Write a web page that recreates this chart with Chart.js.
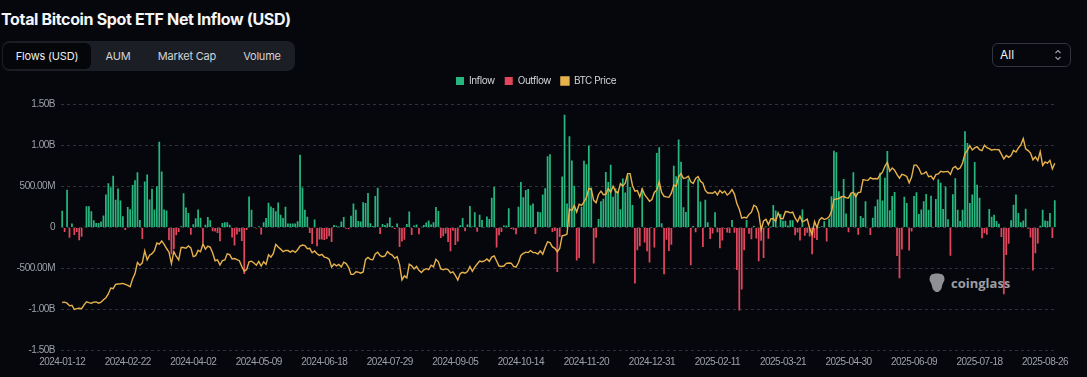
<!DOCTYPE html>
<html>
<head>
<meta charset="utf-8">
<title>Total Bitcoin Spot ETF Net Inflow (USD)</title>
<script src="https://cdn.jsdelivr.net/npm/chart.js@4.4.1/dist/chart.umd.min.js"></script>
<style>
  html, body { margin: 0; padding: 0; background: #05070c; }
  body { width: 1087px; height: 377px; position: relative; overflow: hidden; font-family: Inter, 'Noto Sans', sans-serif; color: #fff; }
  h1 { position: absolute; left: 1px; top: 9px; margin: 0; font-size: 16px; font-weight: 700; letter-spacing: -0.35px; color: #f4f5f7; }
  .tabs { position: absolute; left: 2px; top: 41px; width: 293px; height: 30px; background: #1b1e25; border-radius: 8px; }
  .tabs span { position: absolute; top: 0; height: 30px; line-height: 30px; font-size: 11px; letter-spacing: -0.2px; color: #d2d4d8; text-align: center; }
  .tabs .on { top: 2px; height: 26px; line-height: 26px; background: #04060a; border-radius: 6px; color: #eceef0; }
  .select { position: absolute; left: 992px; top: 43px; width: 77px; height: 22px; border: 1px solid #32353d; border-radius: 6px; background: #05070c; }
  .select span { position: absolute; left: 7px; top: 0; line-height: 22px; font-size: 12px; color: #f0f0f0; }
  .select svg { position: absolute; right: 8px; top: 5px; }
  .mark { position: absolute; left: 928px; top: 273px; height: 20px; display: flex; align-items: center; gap: 5px; color: #9c9ea3; font-family: 'Open Sans', sans-serif; font-weight: 700; font-size: 13px; }
  .chart-box { position: absolute; left: 0; top: 66px; width: 1087px; height: 311px; }
</style>
</head>
<body>
<h1>Total Bitcoin Spot ETF Net Inflow (USD)</h1>
<div class="tabs">
  <span class="on" style="left:1px;width:88px;">Flows (USD)</span>
  <span style="left:96px;width:40px;">AUM</span>
  <span style="left:148px;width:74px;">Market Cap</span>
  <span style="left:232px;width:56px;">Volume</span>
</div>
<div class="select">
  <span>All</span>
  <svg width="8" height="12" viewBox="0 0 8 12"><polyline points="1.5,4 4,1.5 6.5,4" fill="none" stroke="#9a9da3" stroke-width="1.2"/><polyline points="1.5,8 4,10.5 6.5,8" fill="none" stroke="#9a9da3" stroke-width="1.2"/></svg>
</div>
<div class="mark">
  <svg width="18" height="20" viewBox="0 0 18 20"><path d="M3 2 C5 0 13 0 15 2 C17 4 17 8 15 10 L14 13 C14 16 12 18 10 19 L8 19 C6 18 4 16 4 13 L3 10 C1 8 1 4 3 2 Z" fill="#8e9095"/></svg>
  <span>coinglass</span>
</div>
<div class="chart-box"><canvas id="flows-chart"></canvas></div>
<script>
// daily net flow of all US spot bitcoin ETFs, USD millions, one value per trading day from 2024-01-12
const netFlows = [
    205, -55, 460, -125, 50, -90, -55, -155, -110, 10,
    260, 260, 200, 90, 55, 57, 75, 146, 403, 541,
    493, 631, 340, 477, 330, 138, -30, 251, 225, 520,
    577, 673, 92, -138, 562, 648, 341, 473, 222, 505,
    1045, 684, 220, 207, -154, -326, -261, -94, -54, 15,
    418, 244, 179, -86, 40, 113, 220, 120, -187, 36,
    130, 90, -45, -49, -65, -166, 57, 65, 65, 36,
    -120, -218, -84, -50, -162, -564, -30, 378, 217, 8,
    -11, 16, -85, 66, 118, 303, 257, 240, 200, 305,
    157, 118, 253, 49, 49, 49, 49, 77, 887, 488,
    217, 131, -65, -200, 100, -226, -146, -146, -152, -140,
    -106, -175, 31, 22, 12, 73, 129, -14, -20, 143,
    295, 216, 79, 73, 310, 301, 423, 53, 20, 384,
    486, -78, 44, 31, 52, 124, 18, -18, 50, -237,
    -168, -148, 45, 195, -90, 25, 37, -81, 11, 32,
    62, 88, 39, 64, 252, 202, -127, -105, -72, -175,
    -288, -38, -211, -169, 28, 117, -43, 39, 263, 13,
    187, -52, 158, 92, 4, 136, 105, 365, 494, -242,
    -92, -54, 25, 25, 235, -18, -25, -81, 253, 556,
    371, 458, 470, 273, 294, -79, 192, 188, 402, 480,
    870, 893, -55, -40, -541, -116, 622, 1376, 294, 1114,
    817, 510, -400, -371, 255, 816, 773, 1000, 490, -438,
    -123, 106, 320, 353, 676, 556, 766, 376, 479, 439,
    223, 597, 428, 637, 494, 275, -680, -277, -226, 475,
    -183, -288, -426, 5, -242, 908, 978, 52, -569, -149,
    -284, -209, 755, 626, 1073, 803, 249, 189, 588, -458,
    20, -58, 588, 318, -235, 340, 66, -140, -72, 186,
    -56, -251, -156, -15, -60, -65, 94, -62, -516, -1010,
    -754, -276, 94, -74, -143, 22, -134, -409, -160, -371,
    13, -135, 13, 275, 209, 11, 165, 83, 84, 27,
    89, 90, -93, -60, -157, 220, -100, -64, -109, -326,
    -127, -150, 1, 15, 76, -170, 107, 381, 936, 917,
    443, 381, 591, 173, -56, 422, 675, 425, -86, 142,
    117, 321, 7, -91, 120, 260, 342, 667, 329, 607,
    934, 211, 386, 433, -347, -616, -267, 376, 300, -278,
    -48, 386, 431, 165, 220, 322, 408, 216, 389, 6,
    350, 588, 548, 226, 501, 102, -342, 407, 602, 217,
    80, 218, 1175, 1030, 301, 403, 799, 522, 363, -131,
    -68, -86, 227, 131, 157, 80, 47, -114, -812, -333,
    -196, 91, 277, 404, 178, 65, 87, 231, -14, -122,
    -523, -312, -194, 23, 219, 88, 81, 179, -126, 333,
];

// BTC close, USD thousands, same trading days
const btcPrice = [
    42.9, 43.1, 42.6, 41.3, 41.6, 39.5, 39.9, 40.1, 39.9, 41.8,
    43.3, 42.9, 42.6, 43.1, 43.2, 42.6, 43.1, 44.3, 45.3, 47.1,
    50.0, 49.7, 51.8, 52.0, 52.1, 52.3, 51.8, 51.3, 50.7, 54.5,
    57.1, 62.5, 61.2, 62.4, 68.3, 63.8, 66.1, 66.9, 68.3, 72.1,
    71.5, 73.1, 71.4, 69.4, 67.6, 62.0, 67.9, 65.5, 63.8, 69.9,
    69.9, 69.5, 70.7, 69.7, 65.4, 65.9, 68.5, 67.8, 71.6, 69.1,
    70.6, 70.0, 67.2, 63.4, 63.8, 61.3, 63.5, 63.8, 66.8, 66.4,
    64.3, 64.5, 64.0, 63.4, 60.6, 58.3, 59.1, 62.9, 63.2, 62.3,
    61.2, 63.1, 60.8, 62.9, 61.6, 66.3, 65.2, 67.0, 71.4, 70.1,
    69.1, 67.9, 68.5, 68.4, 67.6, 68.4, 67.5, 68.8, 70.6, 71.1,
    70.8, 69.3, 69.5, 67.3, 68.2, 66.8, 66.0, 66.5, 65.2, 64.9,
    64.1, 60.3, 61.8, 60.9, 61.6, 60.3, 62.7, 62.0, 60.2, 56.7,
    56.7, 58.0, 57.8, 57.3, 57.9, 64.1, 65.0, 64.1, 63.9, 66.7,
    67.6, 65.9, 65.4, 65.8, 67.9, 66.8, 66.2, 64.6, 65.4, 61.5,
    54.0, 56.0, 55.0, 61.7, 60.9, 59.4, 60.6, 58.7, 57.6, 58.9,
    59.5, 59.0, 61.2, 60.4, 64.1, 62.9, 59.4, 59.0, 59.4, 59.1,
    57.5, 58.0, 56.2, 53.9, 57.1, 57.7, 57.3, 58.1, 60.5, 58.2,
    60.3, 61.8, 63.2, 62.9, 63.3, 64.3, 63.1, 65.2, 65.8, 63.3,
    60.8, 60.6, 60.8, 62.1, 62.3, 62.2, 60.6, 60.3, 62.4, 66.0,
    67.0, 67.6, 67.4, 68.4, 67.4, 67.4, 66.7, 68.2, 66.6, 69.9,
    72.7, 72.3, 70.2, 69.5, 67.8, 69.4, 75.6, 75.9, 76.5, 88.7,
    88.0, 90.5, 87.3, 91.1, 90.5, 92.3, 94.3, 98.9, 98.4, 93.0,
    91.9, 95.9, 97.5, 95.8, 96.0, 98.8, 97.0, 99.9, 97.4, 96.7,
    101.2, 100.0, 101.4, 106.1, 106.1, 100.2, 97.5, 97.8, 94.7, 98.7,
    95.8, 94.2, 92.6, 93.4, 96.9, 98.1, 102.1, 96.9, 95.0, 94.7,
    94.5, 96.5, 100.5, 99.9, 104.5, 106.1, 103.7, 104.0, 104.8, 102.1,
    101.3, 103.7, 104.7, 102.4, 101.4, 97.9, 96.6, 96.6, 96.5, 97.4,
    95.7, 97.9, 96.6, 97.5, 95.6, 96.6, 98.3, 96.1, 91.4, 88.7,
    84.3, 84.7, 84.4, 86.1, 87.2, 90.6, 89.9, 86.7, 78.5, 82.9,
    83.7, 81.1, 83.9, 84.1, 82.7, 86.9, 84.2, 84.0, 87.5, 87.4,
    86.9, 87.2, 84.4, 82.5, 85.2, 82.5, 83.1, 83.8, 79.2, 76.3,
    82.6, 79.6, 83.4, 84.5, 83.6, 84.0, 84.9, 87.5, 93.4, 93.7,
    93.9, 94.7, 95.0, 94.3, 94.2, 96.5, 96.9, 94.7, 96.8, 97.0,
    103.2, 102.9, 102.8, 104.1, 103.5, 103.7, 103.5, 105.6, 106.8, 109.7,
    111.7, 107.3, 108.9, 107.8, 105.6, 103.9, 105.8, 105.4, 104.7, 101.6,
    104.4, 110.3, 110.3, 108.7, 105.9, 106.1, 107.0, 104.6, 104.9, 103.3,
    105.6, 106.0, 107.3, 106.9, 107.1, 107.2, 105.7, 108.8, 109.6, 108.2,
    108.9, 111.3, 115.9, 117.5, 119.8, 117.7, 118.7, 119.3, 117.9, 117.4,
    120.0, 118.8, 118.4, 117.6, 118.0, 117.9, 117.8, 115.7, 113.3, 115.0,
    114.1, 115.0, 117.5, 116.7, 118.7, 120.2, 123.3, 118.3, 117.4, 116.2,
    112.9, 114.3, 112.5, 116.9, 110.1, 111.8, 111.2, 112.6, 108.4, 111.2,
];

// trading days: weekdays minus US market closures
const firstDay = '2024-01-12';
const marketHolidays = [
    '2024-01-15', '2024-02-19', '2024-03-29', '2024-05-27', '2024-06-19', '2024-07-04',
    '2024-09-02', '2024-11-28', '2024-12-25', '2025-01-01', '2025-01-09', '2025-01-20',
    '2025-02-17', '2025-04-18', '2025-05-26', '2025-06-19', '2025-07-04', '2025-09-01',
];
const dates = [];
for (let d = new Date(firstDay + 'T00:00:00Z'); dates.length < netFlows.length; d.setUTCDate(d.getUTCDate() + 1)) {
    const iso = d.toISOString().slice(0, 10);
    const wd = d.getUTCDay();
    if (wd !== 0 && wd !== 6 && !marketHolidays.includes(iso)) dates.push(iso);
}
const tickEvery = 27;

const green = '#26b67e';
const red = '#e2465c';
const gold = '#e7b24c';
const tickFont = { family: "'Liberation Sans', Arial, sans-serif", size: 10 };

function flowLabel(v) {
    if (v === 0) return '0';
    if (Math.abs(v) >= 1000) return (v / 1000).toFixed(2) + 'B';
    return v.toFixed(2) + 'M';
}

// legend sits a bit right of centre and a bit further above the plot
const legendPlace = {
    id: 'legendPlace',
    beforeInit(chart) {
        const fit = chart.legend.fit;
        chart.legend.fit = function () {
            fit.call(this);
            this.height += 8.5;
        };
    },
    afterLayout(chart) {
        chart.legend.left += 8;
        chart.legend.right += 8;
    }
};

// the axis font on the original is a condensed one; tighten the spacing instead
const tightText = {
    id: 'tightText',
    beforeUpdate(chart) { chart.ctx.letterSpacing = '-0.5px'; },
    beforeDraw(chart) { chart.ctx.letterSpacing = '-0.5px'; }
};

const flowsChart = new Chart(document.getElementById('flows-chart'), {
    data: {
        labels: dates,
        datasets: [
            {
                type: 'bar',
                label: 'Inflow',
                data: netFlows.map(v => v > 0 ? v : null),
                backgroundColor: green,
                grouped: false,
                barPercentage: 0.72,
                categoryPercentage: 1,
                order: 1,
            },
            {
                type: 'bar',
                label: 'Outflow',
                data: netFlows.map(v => v < 0 ? v : null),
                backgroundColor: red,
                grouped: false,
                barPercentage: 0.72,
                categoryPercentage: 1,
                order: 1,
            },
            {
                type: 'line',
                label: 'BTC Price',
                data: btcPrice,
                yAxisID: 'price',
                borderColor: gold,
                backgroundColor: gold,
                borderWidth: 1.4,
                pointRadius: 0,
                tension: 0,
                order: 0,
            },
        ]
    },
    options: {
        responsive: true,
        maintainAspectRatio: false,
        animation: false,
        layout: { padding: { left: 0, right: 31, top: 0, bottom: 0 } },
        plugins: {
            legend: {
                labels: {
                    boxWidth: 8,
                    boxHeight: 8,
                    padding: 10,
                    color: '#d3d5d9',
                    font: { family: 'Inter', size: 10 },
                    sort: (a, b) => a.datasetIndex - b.datasetIndex,
                }
            },
            tooltip: { enabled: false },
        },
        scales: {
            x: {
                grid: { display: false, drawTicks: false },
                border: { display: false },
                ticks: {
                    autoSkip: false,
                    maxRotation: 0,
                    padding: 6,
                    color: '#9da1a8',
                    font: tickFont,
                    callback: (v, i) => i % tickEvery === 0 ? dates[i] : null,
                },
                afterFit(scale) { scale.height = 26.3; },
            },
            y: {
                min: -1500,
                max: 1500,
                grid: { color: '#30333b', drawTicks: false },
                border: { display: false, dash: [3, 3] },
                ticks: {
                    stepSize: 500,
                    padding: 6,
                    color: '#9da1a8',
                    font: tickFont,
                    callback: v => flowLabel(v),
                },
                afterFit(scale) { scale.width = 61; },
            },
            price: {
                display: false,
                position: 'right',
                min: 19.3,
                max: 140,
            },
        }
    },
    plugins: [legendPlace, tightText],
});
</script>
</body>
</html>
